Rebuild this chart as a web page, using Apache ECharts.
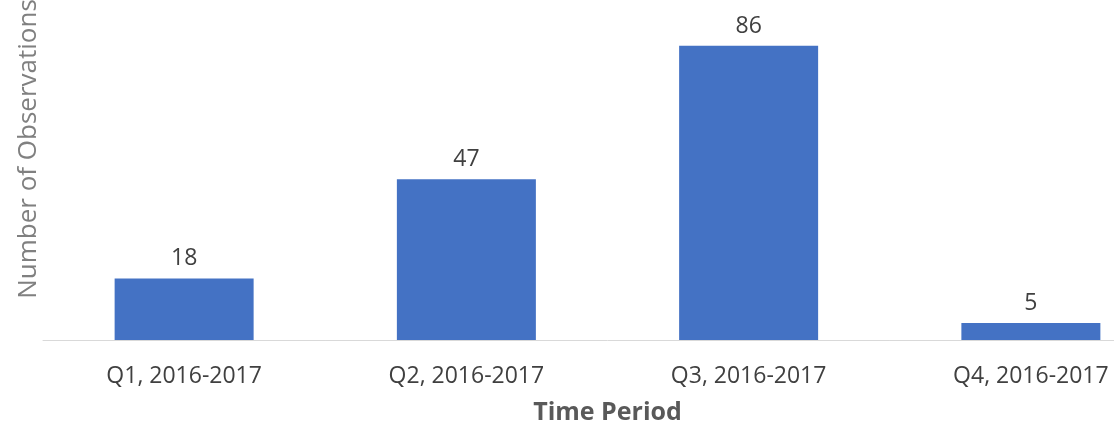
<!DOCTYPE html>
<html>
<head>
<meta charset="utf-8">
<script src="https://cdn.jsdelivr.net/npm/echarts@6/dist/echarts.min.js"></script>
<style>
  html, body { margin: 0; padding: 0; background: #fff; overflow: hidden; }
  #chart { width: 1172px; height: 430px; }
</style>
</head>
<body>
<div id="chart"></div>
<script>
const categories = ['Q1, 2016-2017', 'Q2, 2016-2017', 'Q3, 2016-2017', 'Q4, 2016-2017'];
const observations = [18, 47, 86, 5];

const chart = echarts.init(document.getElementById('chart'));

const option = {
  backgroundColor: '#fff',
  animation: false,
  textStyle: { fontFamily: 'Open Sans' },
  grid: { left: 43, right: 0, top: 32, bottom: 86 },
  // y title sits off-centre in the original, so draw it as a graphic
  graphic: [{
    type: 'text',
    x: 29,
    y: 149,
    rotation: Math.PI / 2,
    style: {
      text: 'Number of Observations',
      fill: '#808080',
      font: '26px "Open Sans"',
      align: 'center',
      verticalAlign: 'middle'
    }
  }],
  xAxis: {
    type: 'category',
    data: categories,
    name: 'Time Period',
    nameLocation: 'middle',
    nameGap: 60,
    nameTextStyle: { color: '#595959', fontSize: 25, fontWeight: 'bold' },
    axisLine: { lineStyle: { color: '#d9d9d9', width: 1 } },
    axisTick: { show: false },
    axisLabel: { color: '#404040', fontSize: 23, margin: 25 }
  },
  yAxis: {
    type: 'value',
    min: 0,
    max: 90,
    show: false
  },
  series: [{
    type: 'bar',
    data: observations,
    barWidth: 139,
    itemStyle: { color: '#4472c4' },
    label: {
      show: true,
      position: 'top',
      distance: 8,
      color: '#404040',
      fontSize: 23
    }
  }]
};

chart.setOption(option);
</script>
</body>
</html>
